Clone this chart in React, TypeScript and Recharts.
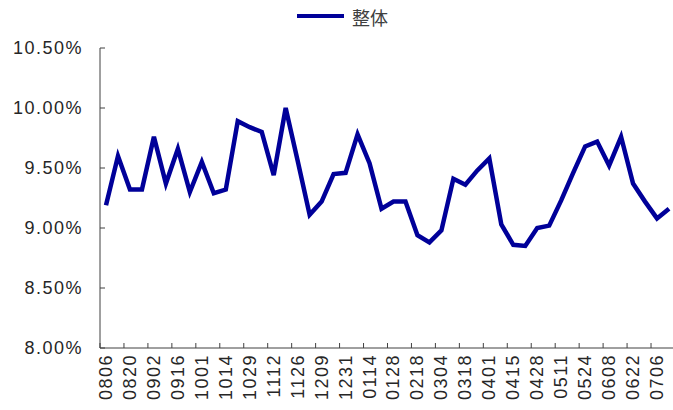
import React from 'react';
import { LineChart, Line, XAxis, YAxis, Legend } from 'recharts';

// Weekly observation dates (MMDD)
const dates = [
  '0806', '0813', '0820', '0827', '0902', '0909', '0916', '0923',
  '1001', '1008', '1014', '1021', '1029', '1105', '1112', '1119',
  '1126', '1203', '1209', '1217', '1231', '0107', '0114', '0121',
  '0128', '0204', '0218', '0225', '0304', '0311', '0318', '0325',
  '0401', '0408', '0415', '0422', '0428', '0506', '0511', '0517',
  '0524', '0531', '0608', '0615', '0622', '0629', '0706', '0713',
];

// Overall rate, in percent
const overall = [
  9.19, 9.6, 9.32, 9.32, 9.76, 9.37, 9.66, 9.3,
  9.55, 9.29, 9.32, 9.89, 9.84, 9.8, 9.44, 10.0,
  9.56, 9.11, 9.22, 9.45, 9.46, 9.78, 9.54, 9.16,
  9.22, 9.22, 8.94, 8.88, 8.98, 9.41, 9.36, 9.48,
  9.58, 9.03, 8.86, 8.85, 9.0, 9.02, 9.23, 9.46,
  9.68, 9.72, 9.52, 9.76, 9.37, 9.22, 9.08, 9.16,
];

const yTicks = [8, 8.5, 9, 9.5, 10, 10.5];
const seriesName = '整体';

const data = dates.map((d, i) => ({ date: d, value: overall[i] }));

const W = 673;
const H = 410;
const PLOT_TOP = 48;
const PLOT_LEFT = 100;
const X_AXIS_H = 62;
const AXIS_Y = H - X_AXIS_H;
const BLUE = '#000099';
const AXIS_COLOR = '#404040';
const TEXT_COLOR = '#262626';
const FONT = '"Liberation Sans", Arial, sans-serif';

const XTick = (props: any) => {
  const { x, payload } = props;
  return (
    <g>
      <line x1={x - 6} x2={x - 6} y1={AXIS_Y} y2={AXIS_Y - 5} stroke={AXIS_COLOR} strokeWidth={1} />
      <text
        transform={`translate(${x},${AXIS_Y + 6}) rotate(-90)`}
        textAnchor="end"
        dominantBaseline="central"
        fontSize={18}
        letterSpacing={1.5}
        fontFamily={FONT}
        fill={TEXT_COLOR}
      >
        {payload.value}
      </text>
    </g>
  );
};

const YTick = (props: any) => {
  const { y, payload } = props;
  return (
    <g>
      <line x1={PLOT_LEFT} x2={PLOT_LEFT + 5} y1={y} y2={y} stroke={AXIS_COLOR} strokeWidth={1} />
      <text
        x={83}
        y={y}
        textAnchor="end"
        dominantBaseline="central"
        fontSize={18}
        letterSpacing={1.5}
        fontFamily={FONT}
        fill={TEXT_COLOR}
      >
        {Number(payload.value).toFixed(2) + '%'}
      </text>
    </g>
  );
};

const LegendContent = () => (
  <svg width={W} height={34}>
    <line x1={297} x2={344} y1={16} y2={16} stroke={BLUE} strokeWidth={4} />
    <text
      x={352}
      y={17}
      dominantBaseline="central"
      fontSize={18}
      fontFamily='"Noto Sans CJK SC", sans-serif'
      fill="#404040"
    >
      {seriesName}
    </text>
  </svg>
);

export default function App() {
  return (
    <div style={{ position: 'absolute', left: 0, top: 0, width: W, height: H, background: '#fff' }}>
      <LineChart
        width={W}
        height={H}
        data={data}
        margin={{ top: PLOT_TOP, right: 0, bottom: 0, left: 0 }}
      >
        <XAxis
          dataKey="date"
          interval={1}
          height={X_AXIS_H}
          axisLine={{ stroke: AXIS_COLOR, strokeWidth: 1 }}
          tickLine={false}
          padding={{ left: 6, right: 4 }}
          tick={<XTick />}
        />
        <YAxis
          width={PLOT_LEFT}
          domain={[8, 10.5]}
          ticks={yTicks}
          axisLine={{ stroke: AXIS_COLOR, strokeWidth: 1 }}
          tickLine={false}
          tick={<YTick />}
        />
        <Legend
          verticalAlign="middle"
          align="center"
          layout="horizontal"
          wrapperStyle={{ top: 0, left: 0, width: W, height: 34 }}
          content={<LegendContent />}
        />
        <Line
          type="linear"
          dataKey="value"
          name={seriesName}
          stroke={BLUE}
          strokeWidth={4.5}
          dot={false}
          isAnimationActive={false}
        />
      </LineChart>
    </div>
  );
}
